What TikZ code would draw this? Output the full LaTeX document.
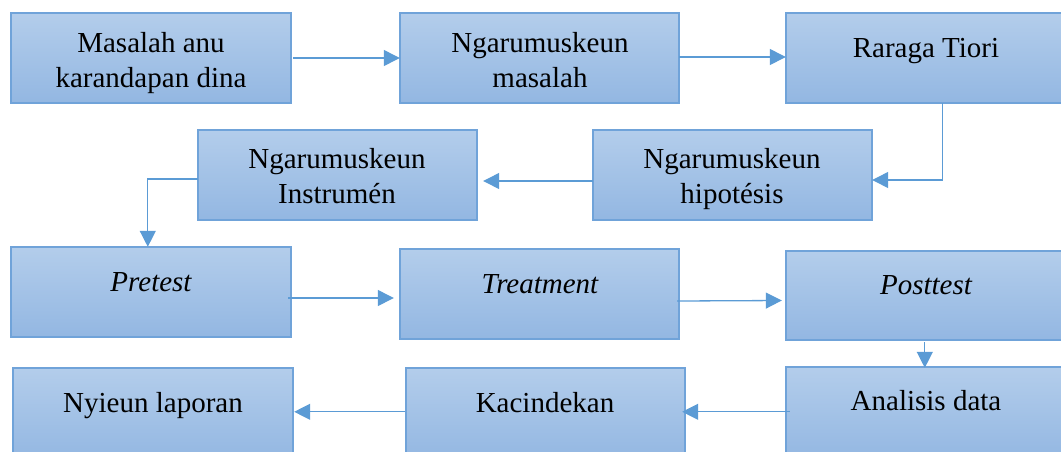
\documentclass[tikz,border=0pt]{standalone}
\usepackage{fontspec}
\setmainfont{Liberation Serif}
\usetikzlibrary{arrows.meta,calc}
\definecolor{topblue}{HTML}{B3CDEB}
\definecolor{botblue}{HTML}{93B7E2}
\definecolor{edgeblue}{HTML}{70A3D9}
\definecolor{arrowblue}{HTML}{5B9BD5}
\tikzset{
  box/.style={draw=edgeblue, line width=1.3pt, top color=topblue, bottom color=botblue,
              shading angle=0, rectangle, inner sep=0pt},
  txt/.style={anchor=base, inner sep=0pt, font=\fontsize{29}{35}\selectfont},
  itxt/.style={txt, font=\fontsize{29}{35}\selectfont\itshape},
  conn/.style={draw=arrowblue, line width=1.3pt, -{Triangle[length=16pt,width=16pt]}},
}
\newcommand{\boxat}[5]{%
  \path[box] (#2,-#3) rectangle (#4,-#5);
  \node[inner sep=0pt, minimum width=#4pt-#2pt, minimum height=#5pt-#3pt] (#1) at ({(#2+#4)/2},{-(#3+#5)/2}) {};}
\begin{document}
\begin{tikzpicture}[x=1pt,y=1pt]
\useasboundingbox (0,0) rectangle (1061,-451);
\clip (0,0) rectangle (1061,-451);
% boxes
\boxat{b1}{11}{13}{291}{103}
\boxat{b2}{400}{13}{679}{103}
\boxat{b3}{786}{13}{1066}{103}
\boxat{b4}{593}{130}{872}{220}
\boxat{b5}{198}{130}{477}{220}
\boxat{b6}{11}{247}{291}{337}
\boxat{b7}{400}{249}{679}{339}
\boxat{b8}{786}{251}{1066}{340}
\boxat{b9}{786}{367}{1066}{460}
\boxat{b10}{406}{368}{685}{460}
\boxat{b11}{13}{368}{293}{460}
% texts
\node[txt] (t1a) at (151,-52) {Masalah anu};
\node[txt] (t1b) at (151,-87) {karandapan dina};
\node[txt] (t2a) at (540,-52) {Ngarumuskeun};
\node[txt] (t2b) at (540,-87) {masalah};
\node[txt] (t3) at (926,-57) {Raraga Tiori};
\node[txt] (t4a) at (732,-168) {Ngarumuskeun};
\node[txt] (t4b) at (732,-203) {hipotésis};
\node[txt] (t5a) at (337,-168) {Ngarumuskeun};
\node[txt] (t5b) at (337,-203) {Instrumén};
\node[itxt] (t6) at (151,-291) {Pretest};
\node[itxt] (t7) at (540,-293) {Treatment};
\node[itxt] (t8) at (926,-294) {Posttest};
\node[txt] (t9) at (926,-410) {Analisis data};
\node[txt] (t10) at (545,-412) {Kacindekan};
\node[txt] (t11) at (153,-412) {Nyieun laporan};
% connectors
\draw[conn] ($(b1.east)+(2,0)$) -- (b2.west);
\draw[conn] ($(b2.east)+(0,1)$) -- ($(b3.west)+(0,1)$);
\coordinate (c3) at ($(b3.south west)+(157,0)$);
\draw[conn] (c3) |- ($(b4.east)+(0,-5)$);
\draw[conn] ($(b4.west)+(0,-6)$) -- ($(b5.east)+(6,-6)$);
\coordinate (c5) at ($(b6.north west)+(137,0)$);
\draw[conn] ($(b5.west)+(0,-4)$) -| (c5);
\draw[conn] ($(b6.east)+(-3,-6)$) -- ($(b7.west)+(-6,-4)$);
\draw[conn] ($(b7.east)+(-2,-7)$) -- ($(b8.west)+(-4,-5)$);
\coordinate (c8) at ($(b8.south west)+(139,-2)$);
\coordinate (c9) at ($(b9.north west)+(139,-1)$);
\draw[conn] (c8) -- (c9);
\coordinate (c9w) at ($(b9.north west)+(4,-45)$);
\coordinate (c10e) at ($(b10.north east)+(-3,-44)$);
\draw[conn] (c9w) -- (c10e);
\coordinate (c10w) at ($(b10.north west)+(-1,-44)$);
\coordinate (c11e) at ($(b11.north east)+(1,-44)$);
\draw[conn] (c10w) -- (c11e);
\end{tikzpicture}
\end{document}
